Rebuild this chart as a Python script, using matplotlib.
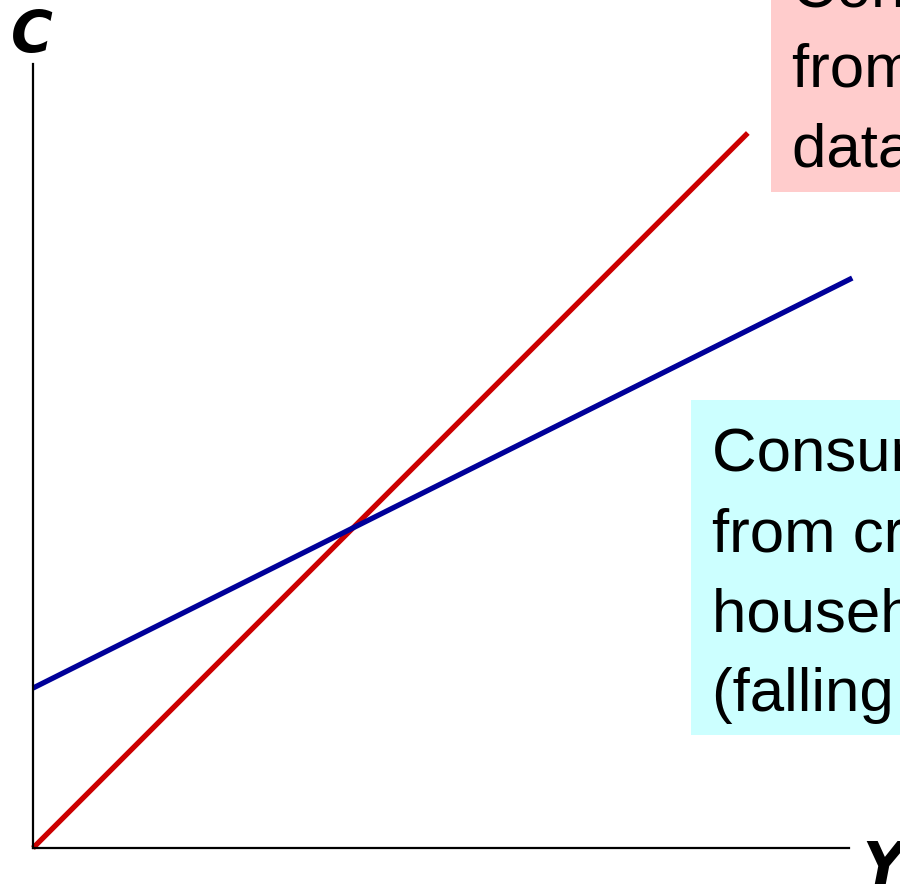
import matplotlib
matplotlib.use("Agg")
import matplotlib.pyplot as plt
from matplotlib.patches import Rectangle

# Income (Y) and consumption (C) end points of the two consumption functions
y_long = [0.0, 8.76]
c_long = [0.0, 9.12]
y_cross = [0.0, 10.04]
c_cross = [2.04, 7.27]

long_lines = ["Consumption function", "from long time-series", "data (constant APC)"]
cross_lines = ["Consumption function", "from cross-sectional", "household data", "(falling APC)"]

W, H = 900, 888
fig = plt.figure(figsize=(W / 100, H / 100), dpi=100)

# axes placed in pixel terms: x from 33 to 849, y from 64 to 848 (top-down)
ax = fig.add_axes([33 / W, 1 - 848 / H, (849 - 33) / W, (848 - 64) / H])
ax.set_xlim(0, 10)
ax.set_ylim(0, 10)
for side in ["top", "right"]:
    ax.spines[side].set_visible(False)
for side in ["left", "bottom"]:
    ax.spines[side].set_linewidth(1.6)
ax.set_xticks([])
ax.set_yticks([])

ax.plot(y_long, c_long, color="#CC0000", lw=3.8, clip_on=False, solid_capstyle="butt")
ax.plot(y_cross, c_cross, color="#000099", lw=3.8, clip_on=False, solid_capstyle="butt")

# axis labels
fig.text(11 / W, 1 - 52 / H, "C", fontsize=41, fontweight="heavy", fontstyle="italic",
         family="DejaVu Sans", va="baseline", ha="left")
fig.text(862 / W, 1 - 884 / H, "Y", fontsize=42, fontweight="heavy", fontstyle="italic",
         family="DejaVu Sans", va="baseline", ha="left")

# coloured text boxes (run off the figure edge)
fig.patches.append(Rectangle((771 / W, 1 - 192 / H), 1.0, 1.0, transform=fig.transFigure,
                             facecolor="#FFCCCC", edgecolor="none", zorder=0))
fig.patches.append(Rectangle((691 / W, 1 - 735 / H), 1.0, (735 - 400) / H, transform=fig.transFigure,
                             facecolor="#CCFFFF", edgecolor="none", zorder=0))

for i, line in enumerate(long_lines):
    fig.text(792 / W, 1 - (7 + 80 * i) / H, line, fontsize=44.5, family="Liberation Sans",
             va="baseline", ha="left")
for i, line in enumerate(cross_lines):
    fig.text(712 / W, 1 - (471 + 80 * i) / H, line, fontsize=44.5, family="Liberation Sans",
             va="baseline", ha="left")

fig.savefig("out.png", dpi=100)
